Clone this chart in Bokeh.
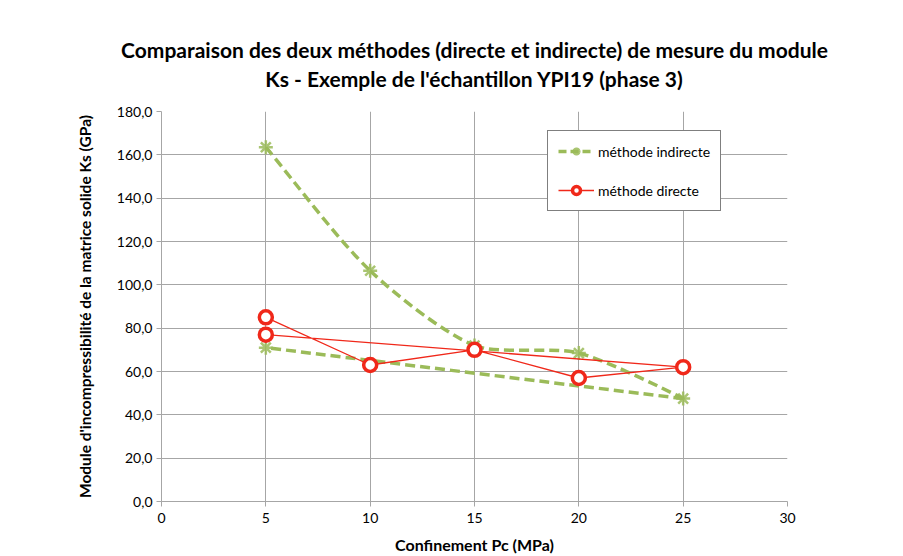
import math
from bokeh.plotting import figure
from bokeh.models import FixedTicker, Legend, LegendItem, Title, ColumnDataSource
from bokeh.embed import file_html
from bokeh.resources import INLINE

# ---- data ----
pc_indirect = [5, 10, 15, 20, 25, 5]
ks_indirect = [163.5, 106.5, 72.0, 68.5, 47.5, 71.0]
pc_direct = [5, 10, 15, 20, 25, 5]
ks_direct = [85.0, 63.0, 70.0, 57.0, 62.0, 77.0]

x_ticks = [0, 5, 10, 15, 20, 25, 30]
x_tick_labels = ["0", "5", "10", "15", "20", "25", "30"]
y_ticks = [0, 20, 40, 60, 80, 100, 120, 140, 160, 180]
y_tick_labels = ["0,0", "20,0", "40,0", "60,0", "80,0", "100,0", "120,0", "140,0", "160,0", "180,0"]

title_1 = "Comparaison des deux méthodes (directe et indirecte) de mesure du module"
title_2 = "Ks - Exemple de l'échantillon YPI19 (phase 3)"
x_label = "Confinement Pc (MPa)"
y_label = "Module d'incompressibilité de la matrice solide Ks (GPa)"
name_indirect = "méthode indirecte"
name_direct = "méthode directe"

FONT = "Lato"
GREEN = "#9BBB59"
RED = "#F0281A"
GRID = "#A6A6A6"

# aspect of the plot area (pixels per data unit), used only for curve smoothing
PX_X = 626 / 30.0
PX_Y = 391 / 180.0
TENSION = 0.28


def smooth_segments(xs, ys):
    """Bezier control points for a smoothed line (chord-weighted tangents,
    relaxed at sharp turns)."""
    n = len(xs)
    P = [(x * PX_X, y * PX_Y) for x, y in zip(xs, ys)]

    def dist(a, b):
        return math.hypot(a[0] - b[0], a[1] - b[1])

    t_out, t_in = [], []
    for i in range(n):
        prev = P[i - 1] if i > 0 else P[i]
        nxt = P[i + 1] if i < n - 1 else P[i]
        tx, ty = nxt[0] - prev[0], nxt[1] - prev[1]
        d0 = dist(prev, P[i])
        d1 = dist(P[i], nxt)
        s = d0 + d1 if d0 + d1 > 0 else 1.0
        k = 1.0
        if d0 > 0 and d1 > 0:
            ax, ay = P[i][0] - prev[0], P[i][1] - prev[1]
            bx, by = nxt[0] - P[i][0], nxt[1] - P[i][1]
            cosang = (ax * bx + ay * by) / (d0 * d1)
            k = (1.0 + cosang) / 2.0
        t_out.append((tx * d1 / s * TENSION * k, ty * d1 / s * TENSION * k))
        t_in.append((tx * d0 / s * TENSION * k, ty * d0 / s * TENSION * k))

    out = {c: [] for c in ("x0", "y0", "x1", "y1", "cx0", "cy0", "cx1", "cy1")}
    for i in range(n - 1):
        a, b = P[i], P[i + 1]
        c0 = (a[0] + t_out[i][0], a[1] + t_out[i][1])
        c1 = (b[0] - t_in[i + 1][0], b[1] - t_in[i + 1][1])
        out["x0"].append(a[0] / PX_X); out["y0"].append(a[1] / PX_Y)
        out["x1"].append(b[0] / PX_X); out["y1"].append(b[1] / PX_Y)
        out["cx0"].append(c0[0] / PX_X); out["cy0"].append(c0[1] / PX_Y)
        out["cx1"].append(c1[0] / PX_X); out["cy1"].append(c1[1] / PX_Y)
    return out


p = figure(width=903, height=556, x_range=(0, 30), y_range=(0, 180),
           output_backend="svg", toolbar_location=None,
           min_border_left=161, min_border_right=116, min_border_top=111,
           min_border_bottom=55)
p.outline_line_color = None
p.background_fill_color = "white"
p.border_fill_color = "white"

# titles (first added sits closest to the plot)
spacer = Title(text=" ", text_font=FONT, text_font_size="13px", standoff=0)
t2 = Title(text=title_2, align="center", text_font=FONT, text_font_size="21px",
           text_font_style="bold", text_color="black", standoff=5)
t1 = Title(text=title_1, align="center", text_font=FONT, text_font_size="21px",
           text_font_style="bold", text_color="black", standoff=0)
p.title = None
p.add_layout(spacer, "above")
p.add_layout(t2, "above")
p.add_layout(t1, "above")

# axes
for ax in (p.xaxis[0], p.yaxis[0]):
    ax.axis_line_color = GRID
    ax.major_tick_line_color = GRID
    ax.minor_tick_line_color = None
    ax.major_tick_in = 0
    ax.major_tick_out = 5
    ax.major_label_text_font = FONT
    ax.major_label_text_font_size = "14px"
    ax.major_label_text_color = "black"
    ax.axis_label_text_font = FONT
    ax.axis_label_text_font_style = "bold"
    ax.axis_label_text_color = "black"

p.xaxis.axis_label_text_font_size = "16px"
p.yaxis.axis_label_text_font_size = "15.5px"
p.xaxis.ticker = FixedTicker(ticks=x_ticks)
p.yaxis.ticker = FixedTicker(ticks=y_ticks)
p.xaxis.major_label_overrides = dict(zip(x_ticks, x_tick_labels))
p.yaxis.major_label_overrides = dict(zip(y_ticks, y_tick_labels))
p.xaxis.axis_label = x_label
p.yaxis.axis_label = y_label
p.xaxis.major_label_standoff = 6
p.yaxis.major_label_standoff = 4
p.xaxis.axis_label_standoff = 9
p.yaxis.axis_label_standoff = 20

p.xgrid.ticker = FixedTicker(ticks=x_ticks)
p.ygrid.ticker = FixedTicker(ticks=y_ticks)
p.grid.grid_line_color = GRID
p.grid.grid_line_width = 1

# indirect: smoothed dashed green curve
seg = ColumnDataSource(smooth_segments(pc_indirect, ks_indirect))
p.bezier(x0="x0", y0="y0", x1="x1", y1="y1", cx0="cx0", cy0="cy0",
         cx1="cx1", cy1="cy1", source=seg, line_color=GREEN, line_width=3.5,
         line_dash="10 5")
ind_star = p.scatter(pc_indirect, ks_indirect, marker="asterisk", size=14,
                     line_color=GREEN, line_width=2.5, line_alpha=0.85)
nan = float("nan")
ind_leg_line = p.line([nan, nan], [nan, nan], line_color=GREEN, line_width=3.5,
                      line_dash="8 4")

# direct: red straight line with circles
dir_line = p.line(pc_direct, ks_direct, line_color=RED, line_width=1.3)
dir_circ = p.scatter(pc_direct, ks_direct, marker="circle", size=13,
                     fill_color="white", line_color=RED, line_width=3.5)

legend = Legend(items=[
    LegendItem(label=name_indirect, renderers=[ind_leg_line, ind_star]),
    LegendItem(label=name_direct, renderers=[dir_line, dir_circ]),
], location=(386, 290))
legend.border_line_color = "black"
legend.border_line_width = 1
legend.background_fill_color = "white"
legend.background_fill_alpha = 1
legend.label_text_font = FONT
legend.label_text_font_size = "14px"
legend.label_text_color = "black"
legend.glyph_width = 36
legend.glyph_height = 20
legend.label_height = 20
legend.label_standoff = 4
legend.padding = 10
legend.spacing = 19
legend.margin = 0
p.add_layout(legend, "center")

open("out.html", "w").write(file_html(p, INLINE))
